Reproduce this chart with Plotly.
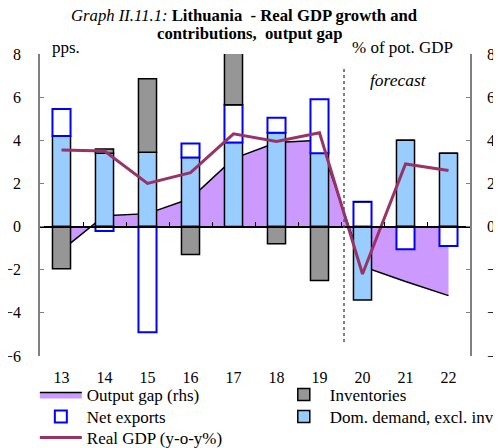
import plotly.graph_objects as go

years = ['13', '14', '15', '16', '17', '18', '19', '20', '21', '22']
output_gap = [-1.1, 0.5, 0.6, 1.3, 3.15, 3.9, 4.0, -1.85, -2.55, -3.2]
dom_demand = [4.2, 3.4, 3.45, 3.2, 3.9, 4.35, 3.4, -3.4, 4.0, 3.4]
net_exports = [1.25, -0.2, -4.9, 0.65, 1.75, 0.7, 2.5, 1.15, -1.05, -0.9]
inventories = [-1.95, 0.2, 3.4, -1.3, 2.4, -0.8, -2.5, 0, 0, 0]
real_gdp = [3.55, 3.5, 2.0, 2.5, 4.3, 3.95, 4.35, -2.2, 2.9, 2.6]
y_ticks = [-6, -4, -2, 0, 2, 4, 6, 8]

serif = "Liberation Serif"
fig = go.Figure()
fig.add_trace(go.Scatter(x=years, y=output_gap, name='Output gap (rhs)', fill='tozeroy',
                         fillcolor='#CC99FF', mode='lines', line=dict(color='black', width=1.5),
                         xaxis='x', yaxis='y', legend='legend', showlegend=True))
fig.add_trace(go.Bar(x=years, y=dom_demand, name='Dom. demand, excl. inv.',
                     marker=dict(color='#99CCFF', line=dict(color='black', width=1.5)),
                     xaxis='x2', yaxis='y2', legend='legend4', showlegend=True))
fig.add_trace(go.Bar(x=years, y=net_exports, name='Net exports',
                     marker=dict(color='white', line=dict(color='#0000FF', width=2)),
                     xaxis='x2', yaxis='y2', legend='legend3', showlegend=True))
fig.add_trace(go.Bar(x=years, y=inventories, name='Inventories',
                     marker=dict(color='#969696', line=dict(color='black', width=1.5)),
                     xaxis='x2', yaxis='y2', legend='legend2', showlegend=True))
fig.add_trace(go.Scatter(x=years, y=real_gdp, name='Real GDP (y-o-y%)', mode='lines',
                         line=dict(color='#993366', width=3),
                         xaxis='x2', yaxis='y2', legend='legend5', showlegend=True))

yax = dict(range=[-6, 8], tickvals=y_ticks, showline=True, linecolor='#808080', linewidth=1.5,
           ticks='inside', ticklen=4, tickcolor='#808080', showgrid=False, zeroline=False,
           ticklabelstandoff=14, tickfont=dict(size=16))

leg = dict(orientation='v', xanchor='left', yanchor='middle', itemwidth=42, visible=True,
           font=dict(family=serif, size=17), bgcolor='rgba(0,0,0,0)', tracegroupgap=0)
col1, col2 = -0.012, 0.553
row1, row2, row3 = -0.129, -0.202, -0.2715

# page has an 8px body margin; the figure is sized/positioned to compensate
fig.update_layout(
    width=493, height=440,
    showlegend=True,
    margin=dict(l=32, r=31, t=46, b=92, autoexpand=False),
    plot_bgcolor='white', paper_bgcolor='white',
    barmode='relative', bargap=0.58,
    font=dict(family=serif, size=15, color='black'),
    xaxis=dict(type='category', range=[-0.5, 9.5], showline=False, ticks='', showgrid=False,
               zeroline=False, tickfont=dict(size=16), ticklabelstandoff=10),
    yaxis=yax,
    xaxis2=dict(type='category', overlaying='x', anchor='free', position=6/14, range=[-0.5, 9.5],
                tickson='boundaries', ticks='inside', ticklen=4, tickcolor='black',
                showticklabels=False, showline=True, linecolor='black', linewidth=1.5,
                showgrid=False, zeroline=False),
    yaxis2=dict(yax, overlaying='y', side='right', ticklabelstandoff=12),
    legend=dict(leg, x=col1, y=row1),
    legend2=dict(leg, x=col2, y=row1),
    legend3=dict(leg, x=col1, y=row2),
    legend4=dict(leg, x=col2, y=row2),
    legend5=dict(leg, x=col1, y=row3),
    shapes=[dict(type='line', xref='x', yref='y', x0=6.57, x1=6.57, y0=-5.35, y1=7.3,
                 line=dict(color='#555555', width=1.5, dash='dot'))],
    annotations=[
        dict(text="<i>Graph II.11.1:</i> <b>Lithuania  - Real GDP growth and</b>",
             xref='paper', yref='paper', x=0.4756, y=1.127, xanchor='center', yanchor='middle',
             showarrow=False, font=dict(size=16.7)),
        dict(text="<b>contributions,  output gap</b>",
             xref='paper', yref='paper', x=0.488, y=1.067, xanchor='center', yanchor='middle',
             showarrow=False, font=dict(size=16.7)),
        dict(text='pps.', xref='paper', yref='paper', x=0.023, y=1.023, xanchor='left',
             yanchor='middle', showarrow=False, font=dict(size=17)),
        dict(text='% of pot. GDP', xref='paper', yref='paper', x=0.842, y=1.02, xanchor='center',
             yanchor='middle', showarrow=False, font=dict(size=17)),
        dict(text='<i>forecast</i>', xref='paper', yref='paper', x=0.833, y=0.914, xanchor='center',
             yanchor='middle', showarrow=False, font=dict(size=17.5)),
    ],
)

fig.write_html("out.html")
